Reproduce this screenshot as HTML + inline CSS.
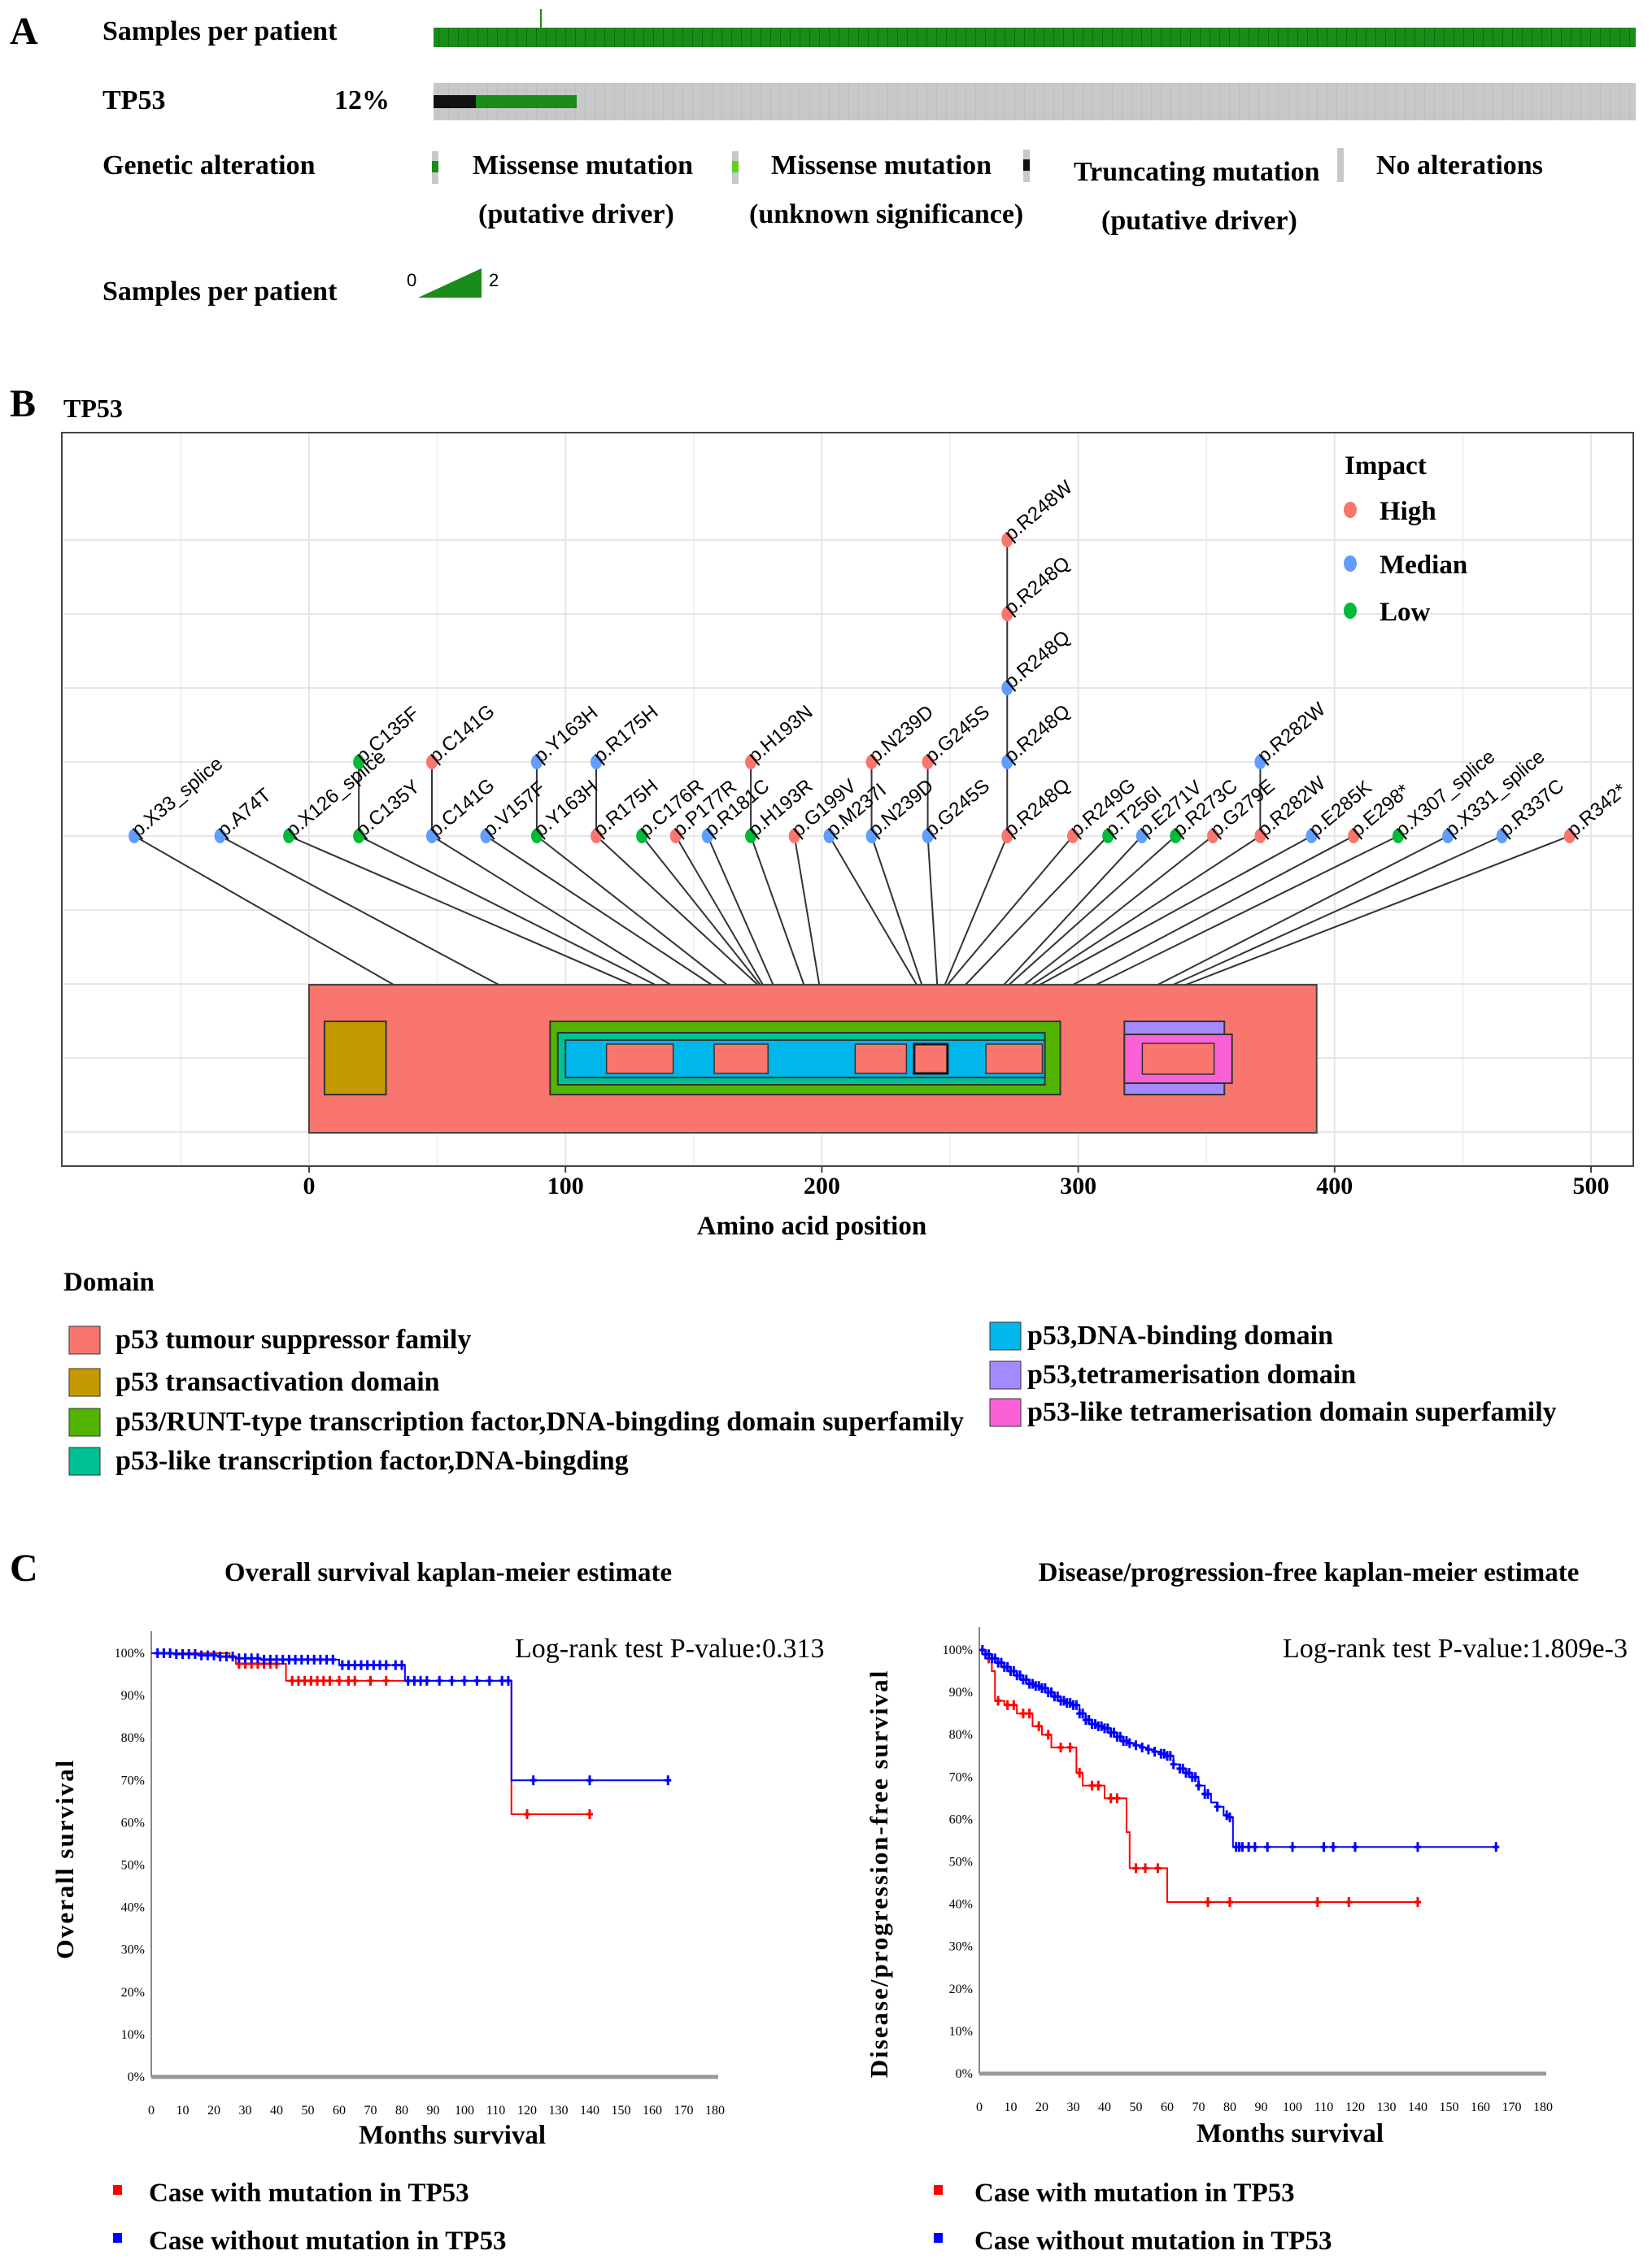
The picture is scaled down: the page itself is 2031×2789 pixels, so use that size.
<!DOCTYPE html>
<html><head><meta charset="utf-8"><style>
body{margin:0;background:#fff}
svg text{font-family:"Liberation Serif",serif}
.b{font-weight:bold}
.s{font-family:"Liberation Sans",sans-serif}
</style></head><body>
<svg id="fig" xmlns="http://www.w3.org/2000/svg" width="2031" height="2784" viewBox="0 0 2031 2784">
<defs>
<pattern id="gstripe" width="12" height="40" patternUnits="userSpaceOnUse"><rect width="12" height="40" fill="#1a8c1a"/><rect x="11" width="1" height="40" fill="#0d6e0d"/></pattern>
<pattern id="grstripe" width="12" height="60" patternUnits="userSpaceOnUse"><rect width="12" height="60" fill="#c8c8c8"/><rect x="11" width="1" height="60" fill="#bdbdbd"/></pattern>
</defs>
<!-- Panel A -->
<g>
<text x="12" y="54" font-size="48" class="b">A</text>
<text x="126" y="49" font-size="34" class="b">Samples per patient</text>
<rect x="533" y="34" width="1478" height="24" fill="url(#gstripe)"/>
<line x1="665" y1="11" x2="665" y2="34" stroke="#1a8c1a" stroke-width="2"/>
<text x="126" y="134" font-size="34" class="b">TP53</text>
<text x="411" y="134" font-size="34" class="b">12%</text>
<rect x="533" y="102" width="1478" height="46" fill="url(#grstripe)"/>
<rect x="533" y="117" width="52" height="16" fill="#111"/>
<rect x="585" y="117" width="124" height="16" fill="#1a8c1a"/>
<text x="126" y="214" font-size="34" class="b">Genetic alteration</text>
<g>
<rect x="531" y="186" width="8" height="40" fill="#c8c8c8"/><rect x="531" y="198" width="8" height="14" fill="#1a8c1a"/>
<text x="581" y="214" font-size="34" class="b">Missense mutation</text><text x="588" y="274" font-size="34" class="b">(putative driver)</text>
<rect x="900" y="186" width="8" height="40" fill="#c8c8c8"/><rect x="900" y="198" width="8" height="14" fill="#5fd21f"/>
<text x="948" y="214" font-size="34" class="b">Missense mutation</text><text x="921" y="274" font-size="34" class="b">(unknown significance)</text>
<rect x="1258" y="184" width="8" height="40" fill="#c8c8c8"/><rect x="1258" y="196" width="8" height="14" fill="#111"/>
<text x="1320" y="222" font-size="34" class="b">Truncating mutation</text><text x="1354" y="282" font-size="34" class="b">(putative driver)</text>
<rect x="1644" y="182" width="8" height="42" fill="#c8c8c8"/>
<text x="1692" y="214" font-size="34" class="b">No alterations</text>
</g>
<text x="126" y="369" font-size="34" class="b">Samples per patient</text>
<text x="500" y="352" font-size="22" class="s">0</text>
<polygon points="514,366 592,330 592,366" fill="#1a8c1a"/>
<text x="601" y="352" font-size="22" class="s">2</text>
</g>
<!-- Panel B -->
<g>
<text x="12" y="512" font-size="48" class="b">B</text>
<text x="78" y="513" font-size="32" class="b">TP53</text>
<g id="lolli"></g>
<text x="1653" y="583" font-size="33" class="b">Impact</text>
<g>
<ellipse cx="1660" cy="627" rx="8" ry="10" fill="#F8766D"/><text x="1696" y="639" font-size="33" class="b">High</text>
<ellipse cx="1660" cy="693" rx="8" ry="10" fill="#619CFF"/><text x="1696" y="705" font-size="33" class="b">Median</text>
<ellipse cx="1660" cy="751" rx="8" ry="10" fill="#00BA38"/><text x="1696" y="763" font-size="33" class="b">Low</text>
</g>
<text x="998" y="1518" font-size="33" class="b" text-anchor="middle">Amino acid position</text>
<text x="78" y="1587" font-size="33" class="b">Domain</text>
<g>
<rect x="85" y="1631" width="38" height="34" fill="#F8766D" stroke="#333"/><text x="142" y="1658" font-size="34" class="b">p53 tumour suppressor family</text>
<rect x="85" y="1683" width="38" height="34" fill="#C49A00" stroke="#333"/><text x="142" y="1710" font-size="34" class="b">p53 transactivation domain</text>
<rect x="85" y="1732" width="38" height="34" fill="#53B400" stroke="#333"/><text x="142" y="1759" font-size="34" class="b">p53/RUNT-type transcription factor,DNA-bingding domain superfamily</text>
<rect x="85" y="1780" width="38" height="34" fill="#00C094" stroke="#333"/><text x="142" y="1807" font-size="34" class="b">p53-like transcription factor,DNA-bingding</text>
<rect x="1217" y="1626" width="38" height="34" fill="#00B6EB" stroke="#333"/><text x="1263" y="1653" font-size="34" class="b">p53,DNA-binding domain</text>
<rect x="1217" y="1674" width="38" height="34" fill="#A58AFF" stroke="#333"/><text x="1263" y="1701" font-size="34" class="b">p53,tetramerisation domain</text>
<rect x="1217" y="1720" width="38" height="34" fill="#FB61D7" stroke="#333"/><text x="1263" y="1747" font-size="34" class="b">p53-like tetramerisation domain superfamily</text>
</g>
</g>
<!-- Panel C -->
<g>
<text x="12" y="1944" font-size="48" class="b">C</text>
<text x="551" y="1944" font-size="33" class="b" text-anchor="middle">Overall survival kaplan-meier estimate</text>
<text x="1609" y="1944" font-size="33" class="b" text-anchor="middle">Disease/progression-free kaplan-meier estimate</text>
<g id="km"></g>
<text x="633" y="2038" font-size="34">Log-rank test P-value:0.313</text>
<text x="1577" y="2038" font-size="34">Log-rank test P-value:1.809e-3</text>
<text transform="translate(90,2286) rotate(-90)" font-size="31" class="b" text-anchor="middle" letter-spacing="2">Overall survival</text>
<text transform="translate(1091,2304) rotate(-90)" font-size="31" class="b" text-anchor="middle" letter-spacing="2">Disease/progression-free survival</text>
<text x="556" y="2636" font-size="33" class="b" text-anchor="middle">Months survival</text>
<text x="1586" y="2634" font-size="33" class="b" text-anchor="middle">Months survival</text>
<g>
<rect x="139" y="2687" width="11" height="12" fill="#f00"/><text x="183" y="2707" font-size="33" class="b">Case with mutation in TP53</text>
<rect x="139" y="2746" width="11" height="12" fill="#00f"/><text x="183" y="2766" font-size="33" class="b">Case without mutation in TP53</text>
</g>
<g>
<rect x="1148" y="2687" width="11" height="12" fill="#f00"/><text x="1198" y="2707" font-size="33" class="b">Case with mutation in TP53</text>
<rect x="1148" y="2746" width="11" height="12" fill="#00f"/><text x="1198" y="2766" font-size="33" class="b">Case without mutation in TP53</text>
</g>
</g>
</svg>
<script>
// ---- Lollipop data ----
const mutLabels=["p.X33_splice","p.A74T","p.X126_splice","p.C135Y","p.C135F","p.C141G","p.C141G","p.V157F","p.Y163H","p.Y163H","p.R175H","p.R175H","p.C176R","p.P177R","p.R181C","p.H193R","p.H193N","p.G199V","p.M237I","p.N239D","p.N239D","p.G245S","p.G245S","p.R248Q","p.R248Q","p.R248Q","p.R248Q","p.R248W","p.R249G","p.T256I","p.E271V","p.R273C","p.G279E","p.R282W","p.R282W","p.E285K","p.E298*","p.X307_splice","p.X331_splice","p.R337C","p.R342*"];
const mutAA=[33,74,126,135,135,141,141,157,163,163,175,175,176,177,181,193,193,199,237,239,239,245,245,248,248,248,248,248,249,256,271,273,279,282,282,285,298,307,331,337,342];
const mutLevel=[1,1,1,1,2,1,2,1,1,2,1,2,1,1,1,1,2,1,1,1,2,1,2,1,2,3,4,5,1,1,1,1,1,1,2,1,1,1,1,1,1];
const mutImpact=["M","M","L","L","L","M","H","M","L","M","H","M","L","H","M","L","H","H","M","M","H","M","H","H","M","M","H","H","H","L","M","L","H","H","M","M","H","L","M","M","H"];
// label-repelled display positions (in amino-acid units)
const mutDisplayAA=[-68.2,-34.7,-7.9,19.4,19.4,47.9,47.9,69,88.8,88.8,112,112,129.8,143,155.4,172.3,172.3,189.3,202.9,219.4,219.4,241.3,241.3,272.3,272.3,272.3,272.3,272.3,297.9,311.6,324.8,338,352.5,371,371,391,407.4,424.8,444.2,465.3,491.7];
const domainNames=["p53 tumour suppressor family","p53 transactivation domain","p53/RUNT-type superfamily","p53-like transcription factor","p53 DNA-binding domain","p53 tetramerisation domain","p53-like tetramerisation superfamily"];
const domainStart=[0,6,94,97,100,318,318];
const domainEnd=[393,30,293,287,287,357,360];
const xTicks=[0,100,200,300,400,500];

const NS="http://www.w3.org/2000/svg";
function mk(p,tag,at){const e=document.createElementNS(NS,tag);for(const k in at)e.setAttribute(k,at[k]);p.appendChild(e);return e;}
const colImp={H:"#F8766D",M:"#619CFF",L:"#00BA38"};
const X=aa=>380+aa*3.152;
const Y=l=>1028-(l-1)*91;
(function(){
 const g=document.getElementById('lolli');
 const bg=mk(g,'rect',{x:76,y:532,width:1932,height:902,fill:'#fff',stroke:'#444','stroke-width':2});
 
 
 for(let a=-50;a<=550;a+=100){const x=X(a);if(x>76&&x<2006){mk(g,'line',{x1:x,y1:533,x2:x,y2:1433,stroke:'#f0f0f0','stroke-width':2});}}
 for(const a of xTicks){mk(g,'line',{x1:X(a),y1:533,x2:X(a),y2:1433,stroke:'#e6e6e6','stroke-width':2});}
 for(let k=-4;k<=5;k++){const y=Y(1)+k*91;if(y>535&&y<1430)mk(g,'line',{x1:77,y1:y,x2:2007,y2:y,stroke:'#e6e6e6','stroke-width':2});}
 const top=1211,bot=1393;
 const d0=mk(g,'rect',{x:X(0),y:top,width:X(393)-X(0),height:bot-top,fill:'#F8766D',stroke:'#444','stroke-width':2});
 
 
 const dom=(i,y1,y2,fill,name)=>{const r=mk(g,'rect',{x:X(domainStart[i]),y:y1,width:X(domainEnd[i])-X(domainStart[i]),height:y2-y1,fill:fill,stroke:'#333','stroke-width':2});};
 dom(1,1256,1346,'#C49A00','domain-transactivation');
 dom(2,1256,1346,'#53B400','domain-runt-superfamily');
 dom(3,1270,1334,'#00C094','domain-p53-like-tf');
 dom(4,1279,1325,'#00B6EB','domain-dna-binding');
 [[116,142],[158,179],[213,233],[264,286]].forEach(s=>mk(g,'rect',{x:X(s[0]),y:1284,width:X(s[1])-X(s[0]),height:36,fill:'#F8766D',stroke:'#333','stroke-width':1.5}));
 mk(g,'rect',{x:X(236),y:1284,width:X(249)-X(236),height:36,fill:'#F8766D',stroke:'#111','stroke-width':3});
 dom(5,1256,1346,'#A58AFF','domain-tetramerisation');
 dom(6,1272,1332,'#FB61D7','domain-tetramerisation-superfamily');
 mk(g,'rect',{x:X(325),y:1283,width:X(353)-X(325),height:38,fill:'#F8766D',stroke:'#333','stroke-width':1.5});
 xTicks.forEach(a=>{mk(g,'line',{x1:X(a),y1:1434,x2:X(a),y2:1442,stroke:'#444','stroke-width':2});
  const t=mk(g,'text',{x:X(a),y:1468,'font-size':30,'text-anchor':'middle','class':'b'});t.textContent=a;
  
  });
 mutLabels.forEach((lab,i)=>{
  const px=X(mutDisplayAA[i]);
  if(mutLevel[i]===1){mk(g,'line',{x1:px,y1:Y(1),x2:X(mutAA[i]),y2:top,stroke:'#333','stroke-width':2});}
  else{mk(g,'line',{x1:px,y1:Y(mutLevel[i]),x2:px,y2:Y(mutLevel[i]-1),stroke:'#333','stroke-width':2});}
 });
 mutLabels.forEach((lab,i)=>{
  const px=X(mutDisplayAA[i]),py=Y(mutLevel[i]);
  const c=mk(g,'ellipse',{cx:px,cy:py,rx:7,ry:9,fill:colImp[mutImpact[i]]});
  
  
  const t=mk(g,'text',{x:0,y:0,'font-size':24,'class':'s',transform:`translate(${px+5},${py+2}) rotate(-40)`});
  t.textContent=lab;
  
  
 });
})();

// ---- KM data ----
const osMutT=[0,25,27,43,115,141];
const osMutS=[100,99,97.5,93.5,62,62];
const osMutCens=[28,30,32,34,36,38,40,45,47,49,51,53,55,57,60,63,65,70,75,120,140];
const osWtT=[0,8,15,22,27,35,60,81,115,165];
const osWtS=[100,99.8,99.5,99.2,98.8,98.5,97.2,93.5,70,70];
const osWtCens=[2,4,6,8,10,12,14,16,18,20,22,24,26,28,30,32,34,36,38,40,42,44,46,48,50,52,54,56,58,61,63,65,67,69,71,73,75,78,80,82,84,86,88,92,96,100,104,108,112,114,122,140,165];
const dfsMutT=[0,2,4,5,8,12,17,20,23,31,33,40,47,48,60,140];
const dfsMutS=[100,98,95,88,87,85,82,80,77,71,68,65,57,48.5,40.5,40.5];
const dfsMutCens=[3,6,9,11,14,16,19,22,26,29,32,36,38,42,44,50,53,57,73,80,108,118,140];
const dfsWtT=[0,2,4,6,8,10,12,14,16,18,20,22,24,26,28,30,32,34,36,38,40,42,44,46,48,50,52,54,56,58,60,62,64,66,68,70,72,74,76,78,80,81,165];
const dfsWtS=[100,99,98,97,96,95,94,93,92,91.5,91,90,89,88,87.5,87,85,83.5,82.5,82,81.5,80.5,79.5,78.5,78,77.5,77,76.5,76,75.5,75,73,72,71,70,68,66,64,63,61,60.5,53.5,53.5];
const dfsWtCens=[1,2,3,4,5,6,7,8,9,10,11,12,13,14,15,16,17,18,19,20,21,22,23,24,25,26,27,28,29,30,31,32,33,34,35,36,37,38,39,40,41,42,43,44,45,46,47,48,50,52,54,56,58,59,60,61,62,64,65,66,67,68,69,70,72,73,76,79,80,82,83,84,86,88,92,100,110,113,120,140,165];
const kmXTicks=[0,10,20,30,40,50,60,70,80,90,100,110,120,130,140,150,160,170,180];
const kmYTicks=[0,10,20,30,40,50,60,70,80,90,100];

(function(){
 const g=document.getElementById('km');
 function panel(name,x0,y0,yTop,pxm,pxs,series){
  const xs=t=>x0+t*pxm, ys=s=>y0-s*pxs;
  const ax=mk(g,'line',{x1:x0,y1:yTop,x2:x0,y2:y0,stroke:'#888','stroke-width':2});
  
  
  const bx=mk(g,'line',{x1:x0,y1:y0,x2:xs(180)+4,y2:y0,stroke:'#999','stroke-width':5});
  
  
  kmXTicks.forEach(v=>{const t=mk(g,'text',{x:xs(v),y:y0+46,'font-size':16,'text-anchor':'middle'});t.textContent=v;
   
   });
  kmYTicks.forEach(v=>{const t=mk(g,'text',{x:x0-8,y:ys(v)+5,'font-size':16,'text-anchor':'end'});t.textContent=v+'%';
   
   });
  series.forEach(se=>{
   const T=se.t,S=se.s;let d=`M${xs(T[0])},${ys(S[0])}`;
   for(let i=1;i<T.length;i++){d+=`H${xs(T[i])}V${ys(S[i])}`;}
   const p=mk(g,'path',{d:d,fill:'none',stroke:se.c,'stroke-width':2});
   
   
   se.cens.forEach(c=>{let s=S[0];for(let i=0;i<T.length;i++){if(T[i]<=c)s=S[i];}
    const cx=xs(c),cy=ys(s);
    const m=mk(g,'path',{d:`M${cx-4},${cy}H${cx+4}M${cx},${cy-6}V${cy+6}`,stroke:se.c,'stroke-width':3});
    
    });
  });
 }
 panel('os',186,2554,2006,3.85,5.21,[
  {n:'mutation',c:'#f00',t:osMutT,s:osMutS,cens:osMutCens},
  {n:'wildtype',c:'#00f',t:osWtT,s:osWtS,cens:osWtCens}]);
 panel('dfs',1204,2550,2001,3.85,5.21,[
  {n:'mutation',c:'#f00',t:dfsMutT,s:dfsMutS,cens:dfsMutCens},
  {n:'wildtype',c:'#00f',t:dfsWtT,s:dfsWtS,cens:dfsWtCens}]);
})();
</script>
</body></html>
